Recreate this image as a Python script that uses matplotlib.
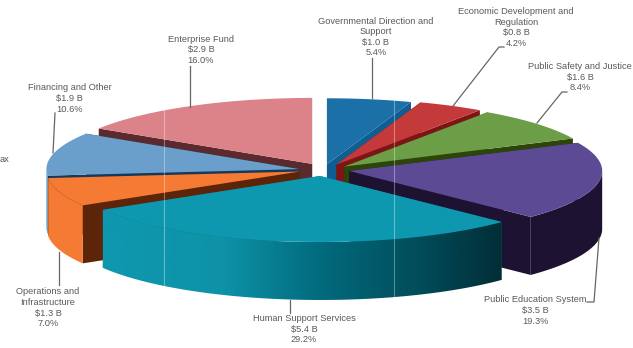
import matplotlib
matplotlib.use("Agg")
import matplotlib.pyplot as plt
import numpy as np
from matplotlib.colors import LinearSegmentedColormap
from matplotlib.patches import Polygon

plt.rcParams["font.family"] = ["Liberation Sans", "DejaVu Sans"]

# Budget by area, clockwise from 12 o'clock
names = [
    "Governmental Direction and\nSupport",
    "Economic Development and\nRegulation",
    "Public Safety and Justice",
    "Public Education System",
    "Human Support Services",
    "Operations and\nInfrastructure",
    "Financing and Other",
    "Enterprise Fund",
]
billions = [1.0, 0.8, 1.6, 3.5, 5.4, 1.3, 1.9, 2.9]
percents = [5.4, 4.2, 8.4, 19.3, 29.2, 7.0, 10.6, 16.0]

# Pull-out of each slice along its mid angle
explode_x = [1.0, 1.1, 1.0, 0.95, 0.6, 0.8, 0.8, 0.7]
explode_y = [1.05, 1.1, 1.0, 0.5, 0.92, 0.55, 1.0, 1.25]

top_colors = ["#1C70A8", "#C43A3A", "#6C9E48", "#5C4B94", "#0E98AF", "#F57B35", "#6A9FCB", "#DC8389"]
face_colors = ["#0F5E92", "#7E1416", "#2D4507", "#1E1232", "#0B6E80", "#5C2409", "#133A5E", "#5A2A2E"]
wall_colors = ["#0F5E92", "#7E1416", "#2D4507", "#1E1232", "#0E98AF", "#F57B35", "#5C8CB4", "#5A2A2E"]

# Back slices first so the front ones paint over them
draw_order = [7, 0, 1, 2, 6, 5, 3, 4]

# Label centre x and y of the first line
label_pos = [(376, 21), (516, 11.7), (580, 66.5), (535, 300), (304, 318.7), (48, 292), (69.5, 88), (201, 39.3)]
leader_lines = [
    [(372, 58), (372, 98)],
    [(504, 47), (499, 47), (453, 106)],
    [(567, 92), (562, 92), (537, 123)],
    [(587, 302), (594, 302), (599, 238)],
    [(290, 300), (290, 313)],
    [(59, 252), (59, 285)],
    [(55, 113), (53, 153)],
    [(190, 66), (190, 107)],
]

CX, CY = 322, 170.5
RX, RY = 253, 66
DEPTH = 58
PULL_X, PULL_Y = 29, 6
TEXT_COLOR = "#5A5A5A"

fig = plt.figure(figsize=(6.33, 3.48), dpi=100, facecolor="white")
ax = fig.add_axes([0, 0, 1, 1])
ax.set_xlim(0, 633)
ax.set_ylim(348, 0)
ax.axis("off")

edges = np.concatenate([[0], np.cumsum(percents)]) / np.sum(percents) * 360


def arc(x0, y0, start, end):
    t = np.radians(np.linspace(start, end, 80))
    return np.column_stack([x0 + RX * np.sin(t), y0 - RY * np.cos(t)])


def draw_wall(i, x0, y0, start, end, z):
    lo, hi = max(start, 90), min(end, 270)
    if lo >= hi:
        return
    rim = arc(x0, y0, lo, hi)
    poly = np.vstack([rim, rim[::-1] + [0, DEPTH]])
    if i != 4:
        ax.add_patch(Polygon(poly, fc=wall_colors[i], ec="none", zorder=z))
        return
    # The big front wall fades from teal into near black
    patch = Polygon(poly, fc="none", ec="none", zorder=z)
    ax.add_patch(patch)
    cmap = LinearSegmentedColormap.from_list(
        "wall", [(0, "#0E98AF"), (0.3, "#0E92A8"), (0.55, "#016A7C"), (0.78, "#014E5C"), (1, "#012E37")]
    )
    x1, x2 = rim[:, 0].min(), rim[:, 0].max()
    img = ax.imshow(
        np.linspace(0, 1, 256).reshape(1, -1),
        cmap=cmap,
        extent=(x1, x2, 348, 0),
        aspect="auto",
        zorder=z,
    )
    img.set_clip_path(patch)


for n, i in enumerate(draw_order):
    start, end = edges[i], edges[i + 1]
    mid = np.radians((start + end) / 2)
    x0 = CX + explode_x[i] * PULL_X * np.sin(mid)
    y0 = CY - explode_y[i] * PULL_Y * np.cos(mid)
    z = 2 + n
    rim = arc(x0, y0, start, end)

    # Cut faces, then outer wall, then the top surface
    for p in (rim[0], rim[-1]):
        face = [(x0, y0), tuple(p), (p[0], p[1] + DEPTH), (x0, y0 + DEPTH)]
        ax.add_patch(Polygon(face, fc=face_colors[i], ec="none", zorder=z))
    draw_wall(i, x0, y0, start, end, z)
    ax.add_patch(Polygon(np.vstack([[(x0, y0)], rim]), fc=top_colors[i], ec="none", zorder=z))

ax.set_xlim(0, 633)
ax.set_ylim(348, 0)

# Faint vertical grid lines over the pie
ax.plot([164, 164], [108, 287], color="white", lw=0.8, alpha=0.35, zorder=20)
ax.plot([394, 394], [100, 298], color="white", lw=0.8, alpha=0.35, zorder=20)

for pts in leader_lines:
    xs, ys = zip(*pts)
    ax.plot(xs, ys, color="#666666", lw=0.9, solid_joinstyle="miter", zorder=21)

for name, b, p, (x, y) in zip(names, billions, percents, label_pos):
    lines = name.split("\n") + [f"${b:.1f} B", f"{p:.1f}%"]
    for k, line in enumerate(lines):
        ax.text(x, y + k * 10.6, line, ha="center", va="center", fontsize=6.7, color=TEXT_COLOR, zorder=22)

# Label cut off by the left edge
ax.text(0, 160, "ax", ha="left", va="center", fontsize=6.7, color=TEXT_COLOR)

fig.savefig("out.png", dpi=100)
